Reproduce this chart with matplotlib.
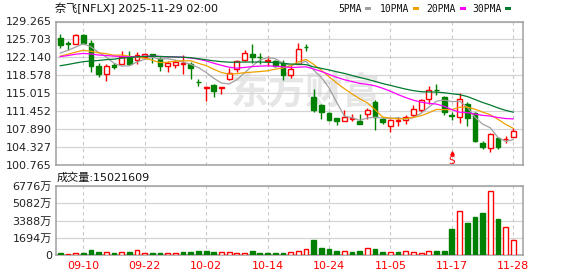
import matplotlib
matplotlib.use('Agg')
import matplotlib.pyplot as plt
import numpy as np
from matplotlib.patches import Rectangle
from matplotlib.transforms import blended_transform_factory

plt.rcParams['font.family'] = ['DejaVu Sans', 'Noto Sans CJK SC']

# ---------------- data ----------------
dates = ['09-05', '09-08', '09-09', '09-10', '09-11', '09-12', '09-15', '09-16', '09-17', '09-18',
         '09-19', '09-22', '09-23', '09-24', '09-25', '09-26', '09-29', '09-30', '10-01', '10-02',
         '10-03', '10-06', '10-07', '10-08', '10-09', '10-10', '10-13', '10-14', '10-15', '10-16',
         '10-17', '10-20', '10-21', '10-22', '10-23', '10-24', '10-27', '10-28', '10-29', '10-30',
         '10-31', '11-03', '11-04', '11-05', '11-06', '11-07', '11-10', '11-11', '11-12', '11-13',
         '11-14', '11-17', '11-18', '11-19', '11-20', '11-21', '11-24', '11-25', '11-26', '11-28']

opens = [126.05, 124.95, 124.86, 126.50, 125.06, 120.38, 118.94, 120.58, 120.90, 122.22,
         121.56, 122.22, 122.75, 121.90, 120.44, 120.71, 120.77, 120.91, 117.35, 116.03,
         116.62, 116.09, 117.95, 119.93, 121.70, 122.88, 122.30, 121.37, 121.37, 121.03,
         118.60, 120.91, 124.19, 114.32, 112.67, 111.04, 110.05, 109.45, 109.91, 109.52,
         110.84, 113.33, 109.91, 108.53, 109.55, 109.65, 110.70, 111.69, 113.92, 115.78,
         114.26, 110.64, 110.37, 113.01, 111.04, 105.24, 104.26, 106.22, 105.90, 106.42]

highs = [126.84, 125.37, 126.70, 126.70, 125.51, 121.03, 120.77, 121.03, 123.40, 123.40,
         123.14, 123.08, 122.88, 122.22, 121.43, 121.56, 122.55, 121.23, 117.95, 116.49,
         116.82, 116.36, 120.12, 121.70, 123.54, 124.72, 123.08, 122.35, 121.70, 121.70,
         120.57, 124.99, 124.86, 115.83, 113.01, 111.35, 110.18, 111.69, 110.97, 110.84,
         112.22, 113.66, 110.37, 109.85, 110.37, 110.70, 112.67, 113.86, 116.49, 116.82,
         114.45, 111.35, 115.18, 113.33, 111.23, 105.57, 107.09, 106.29, 106.61, 108.07]

lows = [124.07, 123.67, 124.72, 124.72, 119.25, 118.27, 117.48, 119.84, 120.77, 120.57,
        120.91, 121.90, 121.03, 119.45, 119.25, 120.12, 118.94, 117.95, 116.49, 113.52,
        114.32, 114.85, 117.75, 119.25, 121.43, 121.02, 120.91, 120.38, 120.24, 117.75,
        118.14, 120.77, 123.40, 111.35, 109.91, 109.58, 108.72, 109.45, 109.52, 108.86,
        109.91, 107.74, 108.86, 107.41, 108.53, 108.92, 110.37, 111.35, 113.01, 114.65,
        110.70, 109.71, 109.18, 108.53, 105.44, 103.93, 103.34, 103.93, 105.24, 106.29]

closes = [124.52, 124.80, 126.50, 125.06, 120.44, 118.80, 120.38, 120.24, 122.22, 120.77,
          122.70, 122.85, 122.35, 120.44, 121.11, 121.23, 121.03, 120.04, 117.22, 116.29,
          115.44, 116.36, 119.13, 121.43, 123.08, 122.25, 122.20, 121.56, 120.44, 118.60,
          119.93, 123.87, 124.13, 111.69, 111.35, 109.65, 109.50, 110.37, 110.05, 108.92,
          111.82, 110.37, 109.38, 109.75, 109.70, 110.31, 112.02, 113.66, 115.78, 115.64,
          111.35, 110.50, 113.99, 110.05, 105.63, 104.46, 106.89, 104.46, 105.96, 107.54]

# volume in 万 shares
volumes = [228, 130, 228, 228, 522, 326, 326, 228, 326, 326,
           522, 228, 228, 228, 228, 228, 326, 326, 424, 424,
           326, 326, 326, 228, 228, 424, 228, 228, 228, 228,
           326, 424, 587, 1500, 717, 619, 456, 424, 359, 456,
           685, 619, 359, 326, 359, 424, 326, 261, 424, 456,
           456, 2575, 4336, 3195, 3782, 4140, 6292, 3553, 2738, 1502.1609]

# closes of the 29 sessions before 09-05 (needed for the moving averages)
prior_closes = [117.5, 117.8, 117.0, 116.2, 115.9, 115.5, 117.3, 116.0, 117.4, 118.4,
                120.5, 121.2, 122.0, 122.6, 122.9, 122.3, 122.8, 123.4, 122.5, 121.8,
                121.0, 122.5, 121.3, 122.4, 121.8,
                122.1, 123.3, 121.7, 123.4]

tick_dates = ['09-10', '09-22', '10-02', '10-14', '10-24', '11-05', '11-17', '11-28']
price_ticks = [100.765, 104.327, 107.890, 111.452, 115.015, 118.578, 122.140, 125.703, 129.265]
vol_ticks = [0, 1694, 3388, 5082, 6776]
ma_periods = [5, 10, 20, 30]
ma_names = ['5PMA', '10PMA', '20PMA', '30PMA']
ma_colors = ['#a0a0a0', '#f0a000', '#ff00ff', '#007a2e']
split_date = '11-17'
title = '奈飞[NFLX] 2025-11-29 02:00'

# ---------------- figure ----------------
W, H = 578, 276
fig = plt.figure(figsize=(W / 100, H / 100), dpi=100)


def box(l, t, r, b):
    return [l / W, 1 - b / H, (r - l) / W, (b - t) / H]


ax = fig.add_axes(box(56, 21.5, 522.5, 165.3))
axv = fig.add_axes(box(56, 186, 522.5, 255.3))

RED = '#ff0000'
GREEN = '#008000'
SPINE = '#a0a0a0'
GRID = '#d4d4d4'

x = np.arange(len(dates))
o = np.array(opens); h = np.array(highs); l = np.array(lows); c = np.array(closes)
up = c >= o
ccol = np.where(up, RED, GREEN)

# watermark
ax.text(0.536, 0.50, '东方财富', transform=ax.transAxes, ha='center', va='center',
        fontsize=27, fontweight='bold', color='#e6e6e6', family=['Noto Sans CJK SC'], zorder=0.5)

# candles
ax.vlines(x, l, h, colors=ccol, lw=1.0, zorder=2)
ax.bar(x, np.maximum(np.abs(c - o), 0.03), bottom=np.minimum(o, c), width=0.62,
       facecolor=np.where(up, 'white', GREEN), edgecolor=ccol, linewidth=1.0, zorder=3)

# moving averages
allc = np.concatenate([np.array(prior_closes), c])
for p, col in zip(ma_periods, ma_colors):
    ma = np.convolve(allc, np.ones(p) / p, mode='valid')[-len(c):]
    ax.plot(x, ma, color=col, lw=0.9, zorder=4)

# split marker
si = dates.index(split_date)
tr = blended_transform_factory(ax.transData, ax.transAxes)
ax.text(si, 0.03, 'S', transform=tr, ha='center', va='center', color=RED, fontsize=7.5, zorder=5)
ax.plot([si], [0.085], marker='^', ms=2.5, color=RED, transform=tr, zorder=5, clip_on=False)

# volume
vcol = [ccol[0]] + [RED if c[i] >= c[i - 1] else GREEN for i in range(1, len(c))]
vface = ['white' if vc == RED else GREEN for vc in vcol]
axv.bar(x, volumes, width=0.62, facecolor=vface, edgecolor=vcol, linewidth=1.0, zorder=3)

tick_idx = [dates.index(d) for d in tick_dates]
for a in (ax, axv):
    a.set_xlim(-0.55, 60.2)
    for xi in tick_idx:
        a.axvline(xi, color='#c8c8c8', lw=0.8, ls=(0, (3, 3)), zorder=1)
    a.yaxis.grid(True, color=GRID, lw=0.9, zorder=1)
    a.set_axisbelow(True)
    for s in a.spines.values():
        s.set_color(SPINE)
        s.set_linewidth(1.1)
    a.tick_params(length=0, labelsize=8, colors='#222222', pad=3)

ax.set_ylim(price_ticks[0], price_ticks[-1])
ax.set_yticks(price_ticks)
ax.set_yticklabels([f'{v:.3f}' for v in price_ticks])
ax.set_xticks(tick_idx)
ax.set_xticklabels([])

axv.set_ylim(vol_ticks[0], vol_ticks[-1])
axv.set_yticks(vol_ticks)
axv.set_yticklabels(['0'] + [f'{v}万' for v in vol_ticks[1:]])
axv.set_xticks(tick_idx)
axv.set_xticklabels(tick_dates, color=RED)
axv.tick_params(axis='x', pad=4, labelcolor=RED)

# header texts
fig.text(55 / W, 1 - 8.5 / H, title, ha='left', va='center', fontsize=8, color='#111111')
fig.text(57 / W, 1 - 177.5 / H, f'成交量:{int(round(volumes[-1] * 10000))}',
         ha='left', va='center', fontsize=8, color='#111111')

# legend
leg_end = [362, 409.5, 456, 502]
sw_x = [365, 412.5, 460, 505]
for name, col, tx, sx in zip(ma_names, ma_colors, leg_end, sw_x):
    fig.text(tx / W, 1 - 8.5 / H, name, ha='right', va='center', fontsize=7,
             family=['DejaVu Sans Mono'], color='#111111')
    fig.patches.append(Rectangle((sx / W, 1 - 10 / H), 6 / W, 3 / H, transform=fig.transFigure,
                                 facecolor=col, edgecolor='none'))

fig.savefig('out.png', dpi=100, facecolor='white')
